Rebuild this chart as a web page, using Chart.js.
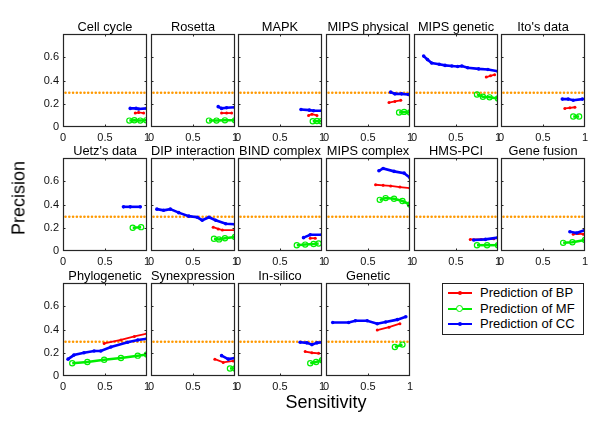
<!DOCTYPE html>
<html>
<head>
<meta charset="utf-8">
<script src="https://cdn.jsdelivr.net/npm/chart.js@4/dist/chart.umd.min.js"></script>
<style>
  body { margin:0; width:600px; height:421px; position:relative; background:#fff; overflow:hidden; font-family:"Liberation Sans", Arial, sans-serif; }
  canvas { position:absolute; }
  .lbl { position:absolute; transform:translate(-50%,-50%); white-space:nowrap; color:#000; }
  #legend { position:absolute; left:442px; top:283px; width:142px; height:52px; box-sizing:border-box; border:1px solid #222; background:#fff; }
  .row { position:absolute; left:0; height:14px; width:140px; }
  .row .ln { position:absolute; left:5px; width:24px; top:6px; height:2px; }
  .row .mk { position:absolute; }
  .row .tx { position:absolute; left:37px; top:-1px; font-size:13px; line-height:16px; color:#000; }
</style>
</head>
<body>
<script>
// ---------------- DATA ----------------
const panelTitles = ["Cell cycle","Rosetta","MAPK","MIPS physical","MIPS genetic","Ito's data",
  "Uetz's data","DIP interaction","BIND complex","MIPS complex","HMS-PCI","Gene fusion",
  "Phylogenetic","Synexpression","In-silico","Genetic"];
const seriesLabels = ["Prediction of BP","Prediction of MF","Prediction of CC"];
const xTicks = [0, 0.5, 1];
const yTicks = [0, 0.2, 0.4, 0.6];

// [sensitivity, precision]
const cellCycleBP = [[0.86,0.12],[0.90,0.125],[0.96,0.12]];
const cellCycleMF = [[0.79,0.055],[0.85,0.058],[0.92,0.055],[0.99,0.057]];
const cellCycleCC = [[0.80,0.16],[0.87,0.16],[0.90,0.155],[1.0,0.16]];

const rosettaBP = [[0.84,0.12],[0.90,0.12],[0.96,0.12]];
const rosettaMF = [[0.69,0.055],[0.78,0.055],[0.88,0.057],[1.0,0.057]];
const rosettaCC = [[0.80,0.175],[0.84,0.16],[0.90,0.165],[1.0,0.17]];

const mapkBP = [[0.84,0.10],[0.88,0.11],[0.94,0.10]];
const mapkMF = [[0.89,0.05],[0.94,0.052],[0.99,0.05]];
const mapkCC = [[0.75,0.15],[0.85,0.145],[0.90,0.14],[1.0,0.14]];

const mipsPhysicalBP = [[0.75,0.21],[0.82,0.22],[0.89,0.23]];
const mipsPhysicalMF = [[0.87,0.125],[0.93,0.13],[1.0,0.125]];
const mipsPhysicalCC = [[0.77,0.30],[0.82,0.285],[0.90,0.285],[0.98,0.28]];

const mipsGeneticBP = [[0.86,0.43],[0.91,0.44],[0.96,0.45]];
const mipsGeneticMF = [[0.75,0.28],[0.82,0.26],[0.90,0.255],[1.0,0.245]];
const mipsGeneticCC = [[0.115,0.61],[0.16,0.58],[0.21,0.55],[0.30,0.54],[0.37,0.53],[0.45,0.525],[0.52,0.52],[0.57,0.525],[0.64,0.51],[0.77,0.50],[0.88,0.495],[1.0,0.48]];

const itoBP = [[0.76,0.16],[0.82,0.165],[0.88,0.17]];
const itoMF = [[0.86,0.09],[0.93,0.09]];
const itoCC = [[0.73,0.24],[0.80,0.24],[0.86,0.23],[0.97,0.24]];

const uetzBP = [];
const uetzMF = [[0.83,0.20],[0.93,0.205]];
const uetzCC = [[0.72,0.38],[0.80,0.38],[0.92,0.38]];

const dipBP = [[0.74,0.205],[0.80,0.19],[0.85,0.18],[1.0,0.18]];
const dipMF = [[0.75,0.105],[0.81,0.10],[0.88,0.11],[1.0,0.12]];
const dipCC = [[0.07,0.36],[0.15,0.35],[0.23,0.36],[0.33,0.33],[0.45,0.30],[0.55,0.29],[0.61,0.265],[0.69,0.29],[0.77,0.265],[0.89,0.235],[1.0,0.23]];

const bindBP = [[0.86,0.11],[0.92,0.11]];
const bindMF = [[0.70,0.05],[0.80,0.055],[0.90,0.06],[0.96,0.065]];
const bindCC = [[0.78,0.115],[0.86,0.14],[1.0,0.14]];

const mipsComplexBP = [[0.59,0.57],[0.68,0.565],[0.77,0.56],[0.88,0.55],[1.0,0.54]];
const mipsComplexMF = [[0.64,0.44],[0.71,0.455],[0.81,0.45],[0.91,0.43],[1.0,0.40]];
const mipsComplexCC = [[0.63,0.69],[0.68,0.71],[0.81,0.685],[0.93,0.67],[1.0,0.63]];

const hmsBP = [[0.67,0.10],[0.80,0.10],[0.95,0.105]];
const hmsMF = [[0.75,0.05],[0.87,0.05],[1.0,0.05]];
const hmsCC = [[0.71,0.094],[0.85,0.10],[1.0,0.115]];

const geneFusionBP = [[0.86,0.145],[0.92,0.15],[0.98,0.145]];
const geneFusionMF = [[0.74,0.07],[0.85,0.075],[1.0,0.095]];
const geneFusionCC = [[0.82,0.165],[0.90,0.155],[1.0,0.18]];

const phyloBP = [[0.49,0.28],[0.69,0.31],[0.85,0.34],[1.0,0.365]];
const phyloMF = [[0.11,0.11],[0.29,0.12],[0.49,0.14],[0.69,0.155],[0.89,0.175],[1.0,0.185]];
const phyloCC = [[0.06,0.145],[0.13,0.18],[0.25,0.20],[0.37,0.215],[0.45,0.215],[0.57,0.25],[0.77,0.29],[0.89,0.31],[1.0,0.32]];

const synexBP = [[0.76,0.145],[0.86,0.117],[0.98,0.13]];
const synexMF = [[0.94,0.065],[1.0,0.065]];
const synexCC = [[0.84,0.175],[0.92,0.145],[1.0,0.155]];

const inSilicoBP = [[0.80,0.21],[0.88,0.20],[0.96,0.195]];
const inSilicoMF = [[0.86,0.11],[0.93,0.12],[1.0,0.135]];
const inSilicoCC = [[0.74,0.29],[0.82,0.285],[0.88,0.27],[0.94,0.285],[1.0,0.29]];

const geneticBP = [[0.61,0.395],[0.75,0.42],[0.88,0.45]];
const geneticMF = [[0.82,0.25],[0.91,0.27]];
const geneticCC = [[0.08,0.46],[0.27,0.46],[0.35,0.475],[0.49,0.475],[0.61,0.45],[0.71,0.465],[0.85,0.485],[0.95,0.51]];

// random-baseline precision (orange dotted)
const baseline = [[0.03,0.295],[0.075,0.295],[0.12,0.295],[0.165,0.295],[0.21,0.295],[0.255,0.295],[0.30,0.295],[0.345,0.295],[0.39,0.295],[0.435,0.295],[0.48,0.295],[0.525,0.295],[0.57,0.295],[0.615,0.295],[0.66,0.295],[0.705,0.295],[0.75,0.295],[0.795,0.295],[0.84,0.295],[0.885,0.295],[0.93,0.295],[0.97,0.295]];

const panelSeries = [
  [cellCycleBP,cellCycleMF,cellCycleCC],[rosettaBP,rosettaMF,rosettaCC],[mapkBP,mapkMF,mapkCC],
  [mipsPhysicalBP,mipsPhysicalMF,mipsPhysicalCC],[mipsGeneticBP,mipsGeneticMF,mipsGeneticCC],[itoBP,itoMF,itoCC],
  [uetzBP,uetzMF,uetzCC],[dipBP,dipMF,dipCC],[bindBP,bindMF,bindCC],
  [mipsComplexBP,mipsComplexMF,mipsComplexCC],[hmsBP,hmsMF,hmsCC],[geneFusionBP,geneFusionMF,geneFusionCC],
  [phyloBP,phyloMF,phyloCC],[synexBP,synexMF,synexCC],[inSilicoBP,inSilicoMF,inSilicoCC],[geneticBP,geneticMF,geneticCC]
];

// ---------------- LAYOUT ----------------
const colLefts = [63,151,238,326,414,501];
const rowTops = [34,158,283];
const PW = 84, PH = 93, ML = 40, MR = 8, MT = 14, MB = 20;
const FONT = "'Liberation Sans', Arial, sans-serif";
const COLORS = ['#ff0000','#00ee00','#0000ff'];
const ORANGE = '#ff9900';

const boxPlugin = {
  id: 'box',
  afterDraw(chart) {
    const {ctx, chartArea:a, scales} = chart;
    ctx.save();
    ctx.strokeStyle = '#262626';
    ctx.lineWidth = 1.2;
    ctx.strokeRect(a.left + 0.5, a.top + 0.5, a.right - a.left - 1, a.bottom - a.top - 1);
    ctx.lineWidth = 1;
    ctx.beginPath();
    [0.2,0.4,0.6].forEach(v => {
      const y = Math.round(scales.y.getPixelForValue(v)) + 0.5;
      ctx.moveTo(a.left, y); ctx.lineTo(a.left + 2.5, y);
      ctx.moveTo(a.right, y); ctx.lineTo(a.right - 2.5, y);
    });
    const x = Math.round(scales.x.getPixelForValue(0.5)) + 0.5;
    ctx.moveTo(x, a.bottom); ctx.lineTo(x, a.bottom - 2.5);
    ctx.moveTo(x, a.top); ctx.lineTo(x, a.top + 2.5);
    ctx.stroke();
    ctx.restore();
  }
};

const toXY = arr => arr.map(p => ({x:p[0], y:p[1]}));

panelTitles.forEach((title, i) => {
  const col = i % 6, row = Math.floor(i / 6);
  const cv = document.createElement('canvas');
  cv.width = ML + PW + MR; cv.height = MT + PH + MB;
  cv.style.left = (colLefts[col] - ML) + 'px';
  cv.style.top = (rowTops[row] - MT) + 'px';
  document.body.appendChild(cv);
  const [bp, mf, cc] = panelSeries[i];
  new Chart(cv, {
    type: 'line',
    data: { datasets: [
      { label: 'baseline', data: toXY(baseline), showLine:false, pointRadius:1.3, pointBorderWidth:0,
        pointBackgroundColor: ORANGE, borderColor: ORANGE, order: 4 },
      { label: seriesLabels[1], data: toXY(mf), borderColor: COLORS[1], borderWidth:2.5, pointRadius:2.6,
        pointStyle:'circle', pointBackgroundColor:'rgba(255,255,255,0)', pointBorderColor:COLORS[1], pointBorderWidth:1.2, order: 3 },
      { label: seriesLabels[0], data: toXY(bp), borderColor: COLORS[0], borderWidth:1.8, pointRadius:1.5,
        pointBackgroundColor: COLORS[0], pointBorderWidth:0, order: 2 },
      { label: seriesLabels[2], data: toXY(cc), borderColor: COLORS[2], borderWidth:2.6, pointRadius:1.8,
        pointBackgroundColor: COLORS[2], pointBorderWidth:0, order: 1 }
    ]},
    options: {
      responsive:false, animation:false, devicePixelRatio:1,
      layout: { padding: 0 },
      elements: { line: { tension: 0 } },
      plugins: {
        legend: { display:false }, tooltip: { enabled:false },
        title: { display:true, text:title, color:'#000', fullSize:false, padding:0,
                 font:{ family:FONT, size:12.8, weight:'normal', lineHeight:'14px' } }
      },
      scales: {
        x: { type:'linear', min:0, max:1,
             afterBuildTicks: s => { s.ticks = xTicks.map(v => ({value:v})); },
             ticks: { color:'#111', font:{family:FONT, size:11}, padding:4, maxRotation:0, autoSkip:false,
                      callback: v => String(v) },
             grid: { display:false, drawTicks:false }, border: { display:false },
             afterFit: s => { s.height = MB; } },
        y: { type:'linear', min:0, max:0.8, position:'left',
             afterBuildTicks: s => { s.ticks = yTicks.map(v => ({value:v})); },
             ticks: { display: col === 0, color:'#111', font:{family:FONT, size:11}, padding:4,
                      callback: v => String(v) },
             grid: { display:false, drawTicks:false }, border: { display:false },
             afterFit: s => { s.width = ML; } },
        y2: { type:'linear', min:0, max:1, position:'right', display:true,
              ticks: { display:false }, grid: { display:false, drawTicks:false }, border: { display:false },
              afterFit: s => { s.width = MR; } }
      }
    },
    plugins: [boxPlugin]
  });
});
</script>

<div class="lbl" style="left:19px; top:198px; font-size:18px; transform:translate(-50%,-50%) rotate(-90deg);">Precision</div>
<div class="lbl" style="left:326px; top:402px; font-size:18px;">Sensitivity</div>

<div id="legend">
  <div class="row" style="top:2px;">
    <div class="ln" style="background:#ff0000;"></div>
    <div class="mk" style="left:15px; top:5px; width:4px; height:4px; border-radius:2px; background:#ff0000;"></div>
    <div class="tx">Prediction of BP</div>
  </div>
  <div class="row" style="top:17.5px;">
    <div class="ln" style="background:#00ee00;"></div>
    <div class="mk" style="left:13px; top:3px; width:5px; height:5px; border-radius:50%; border:1.5px solid #00ee00; background:#fff;"></div>
    <div class="tx">Prediction of MF</div>
  </div>
  <div class="row" style="top:33px;">
    <div class="ln" style="background:#0000ff;"></div>
    <div class="mk" style="left:15px; top:5px; width:4px; height:4px; border-radius:2px; background:#0000ff;"></div>
    <div class="tx">Prediction of CC</div>
  </div>
</div>
</body>
</html>
